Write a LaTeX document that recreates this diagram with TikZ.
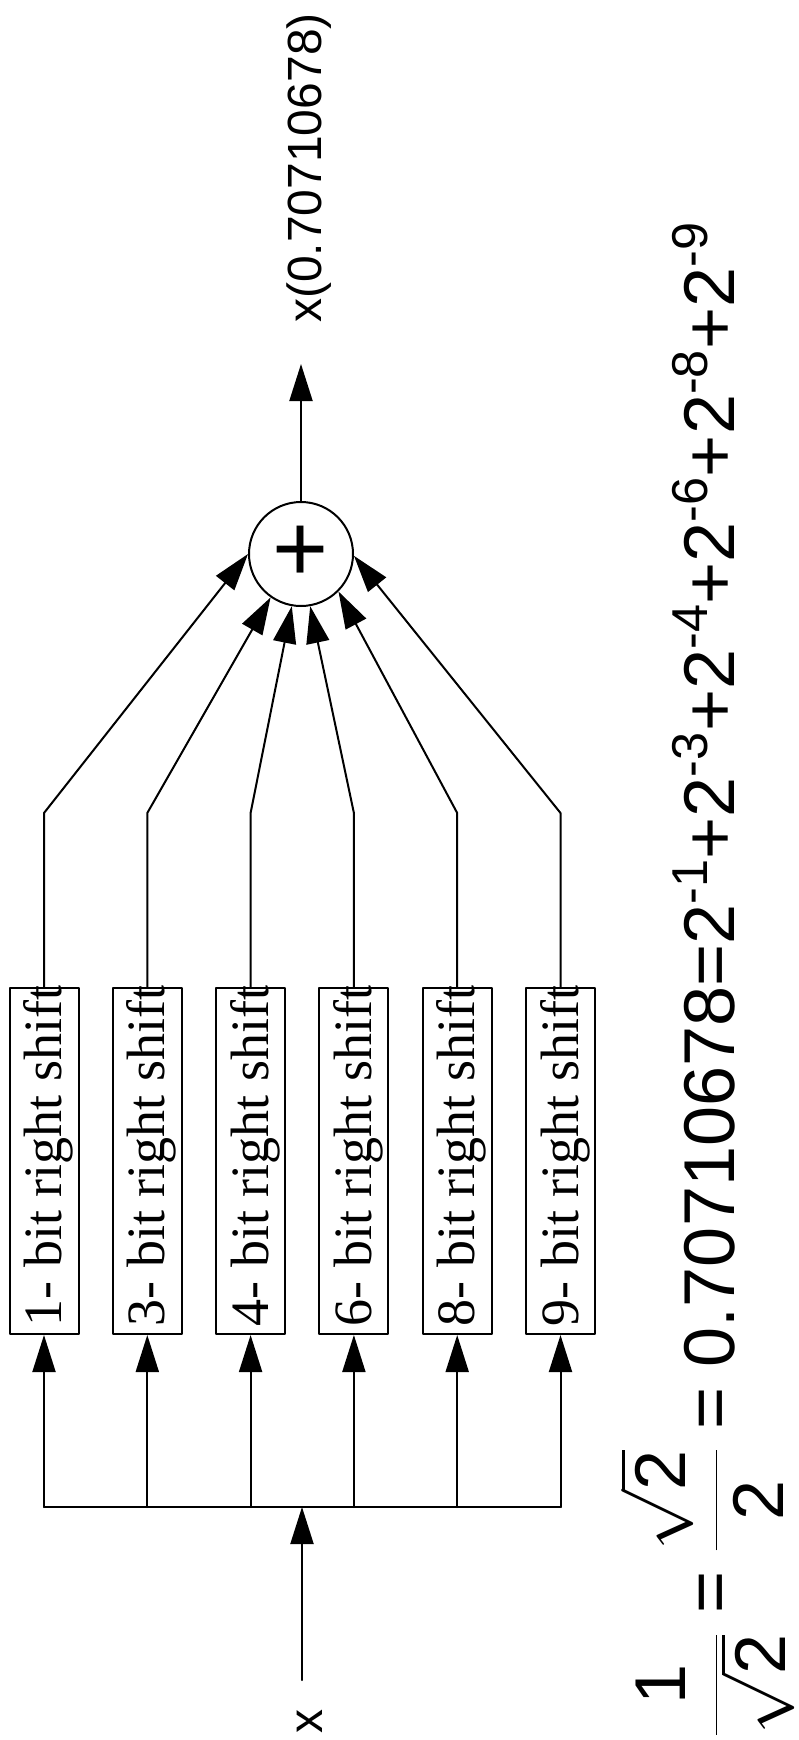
\documentclass[tikz,border=0pt]{standalone}
\usepackage{fix-cm}
\usepackage{amsmath}
\usepackage{fontspec}
\setmainfont{Liberation Sans}
\newfontfamily\boxfont{Liberation Serif}
\usetikzlibrary{arrows.meta}

\begin{document}
\begin{tikzpicture}[x=1pt, y=-1pt, line width=2pt, line cap=round, line join=round, >={Triangle[length=37pt,width=23pt]}]
	\tikzset{
		shift_box/.style={draw, rotate=90, minimum width=346pt, minimum height=69pt, inner sep=0pt, text height=37pt, text depth=2pt, font=\boxfont\fontsize{54}{54}\selectfont}, % Khối dịch bit
		adder_node/.style={circle, draw, minimum size=104pt, inner sep=0pt, font=\fontsize{96}{96}\selectfont},
		rot_label/.style={rotate=90, inner sep=0pt, font=\fontsize{48}{48}\selectfont},
		formula/.style={rotate=90, inner sep=0pt, font=\fontsize{72}{80}\selectfont}
	}
	\useasboundingbox (0,0) rectangle (798,1740);
	\node[adder_node] (sum) at (301,554) {+};
	\coordinate (yout) at (301,364);
	\draw[->] (sum.90) -- (yout);
	\node[rot_label, anchor=base] (ylab) at (321,168) {x(0.70710678)};
	\coordinate (xin) at (302,1680);
	\coordinate (busmid) at (302,1507);
	\draw[->] (xin) -- (busmid);
	\node[rot_label, anchor=base] (xlab) at (322,1721) {x};
	\foreach \i/\n/\ang in {0/1/180, 1/3/235, 2/4/260, 3/6/280, 4/8/315, 5/9/358} {
		\pgfmathsetmacro\bx{44+103.3*\i}
		\node[shift_box] (s\n) at (\bx,1161) {\makebox[330pt][l]{\n- bit right shift}};
		\coordinate (t\n) at (\bx,1507);
		\coordinate (b\n) at (\bx,813);
		\draw[->] (t\n) -- (s\n.west);
		\draw[->] (s\n.east) -- (b\n) -- (sum.\ang);
	}
	\draw (t1) -- (t9);
	\node[formula, anchor=base west] (eq) at (734,1737) {$\dfrac{\text{1}}{\sqrt{\text{2}}}$ = $\dfrac{\sqrt{\text{2}}}{\text{2}}$ = 0.70710678=2\textsuperscript{-1}+2\textsuperscript{-3}+2\textsuperscript{-4}+2\textsuperscript{-6}+2\textsuperscript{-8}+2\textsuperscript{-9}};
\end{tikzpicture}
\end{document}
